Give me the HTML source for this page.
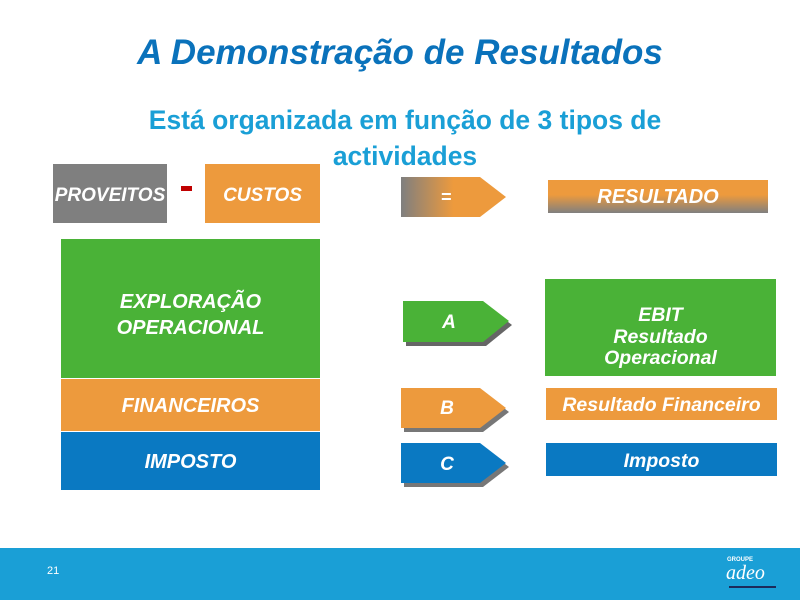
<!DOCTYPE html>
<html><head><style>
body{margin:0;width:800px;height:600px;position:relative;background:#fff;font-family:"Liberation Sans",sans-serif;overflow:hidden}
.a{position:absolute}
.t{color:#fff;font-weight:bold;font-style:italic;display:flex;align-items:center;justify-content:center;text-align:center;white-space:nowrap;box-sizing:border-box}
</style></head><body>
<div class="a" style="left:0;top:33px;width:800px;text-align:center;font-size:35px;font-weight:bold;font-style:italic;color:#0a72bb">A Demonstração de Resultados</div>
<div class="a" style="left:120px;top:102px;width:570px;text-align:center;font-size:26.5px;font-weight:bold;color:#1a9fd6;line-height:36px">Está organizada em função de 3 tipos de actividades</div>

<div class="a t" style="left:53px;top:164px;width:114px;height:59px;background:#7f7f7f;font-size:19px;padding-top:4px">PROVEITOS</div>
<div class="a" style="left:181px;top:186px;width:11px;height:5px;background:#c00000"></div>
<div class="a t" style="left:205px;top:164px;width:115px;height:59px;background:#ed9a3d;font-size:19px;padding-top:4px">CUSTOS</div>

<div class="a t" style="left:61px;top:239px;width:259px;height:139px;background:#4ab237;font-size:20px;line-height:26px;padding-top:13px">EXPLORAÇÃO<br>OPERACIONAL</div>
<div class="a t" style="left:61px;top:379px;width:259px;height:52px;background:#ed9a3d;font-size:20px;padding-top:2px">FINANCEIROS</div>
<div class="a t" style="left:61px;top:432px;width:259px;height:58px;background:#0a79c2;font-size:20px;padding-top:3px">IMPOSTO</div>

<svg class="a" style="left:0;top:0" width="800" height="600">
<defs><linearGradient id="g1" x1="0" x2="1"><stop offset="0" stop-color="#7f7f7f"/><stop offset="0.5" stop-color="#ed9a3d"/></linearGradient></defs>
<polygon points="401,177 480,177 506,197 480,217 401,217" fill="url(#g1)"/>
<polygon points="406,305 486,305 512,325 486,346 406,346" fill="#666"/>
<polygon points="403,301 483,301 509,321 483,342 403,342" fill="#4ab237"/>
<polygon points="404,392 483,392 509,412 483,432 404,432" fill="#777"/>
<polygon points="401,388 480,388 506,408 480,428 401,428" fill="#ed9a3d"/>
<polygon points="404,447 483,447 509,467 483,487 404,487" fill="#777"/>
<polygon points="401,443 480,443 506,463 480,483 401,483" fill="#0a79c2"/>
<polygon points="715,548 730,548 722,552" fill="#fff"/>
</svg>
<div class="a t" style="left:401px;top:177px;width:90px;height:40px;font-size:18px">=</div>
<div class="a t" style="left:403px;top:301px;width:92px;height:41px;font-size:19px;padding-top:2px">A</div>
<div class="a t" style="left:401px;top:388px;width:92px;height:40px;font-size:19px;padding-top:2px">B</div>
<div class="a t" style="left:401px;top:443px;width:92px;height:40px;font-size:19px;padding-top:4px">C</div>

<div class="a t" style="left:548px;top:180px;width:220px;height:33px;background:linear-gradient(#ed9a3d 45%,#808080);font-size:20px;padding-top:2px">RESULTADO</div>
<div class="a t" style="left:545px;top:279px;width:231px;height:97px;background:#4ab237;font-size:19.5px;line-height:21.5px;padding-top:20px">EBIT<br>Resultado<br>Operacional</div>
<div class="a t" style="left:546px;top:388px;width:231px;height:32px;background:#ed9a3d;font-size:19.5px;padding-top:3px">Resultado Financeiro</div>
<div class="a t" style="left:546px;top:443px;width:231px;height:33px;background:#0a79c2;font-size:19.5px;padding-top:4px">Imposto</div>

<div class="a" style="left:0;top:548px;width:800px;height:52px;background:#1a9fd6"></div>
<div class="a" style="left:47px;top:565px;font-size:11px;color:#fff">21</div>
<div class="a" style="left:727px;top:557px;font-size:6px;color:#fff;font-weight:bold">GROUPE</div>
<div class="a" style="left:726px;top:562px;font-size:20px;color:#fff;font-style:italic;font-family:'Liberation Serif',serif">adeo</div>
<div class="a" style="left:729px;top:586px;width:47px;height:2px;background:#1c2a5a"></div>
</body></html>
